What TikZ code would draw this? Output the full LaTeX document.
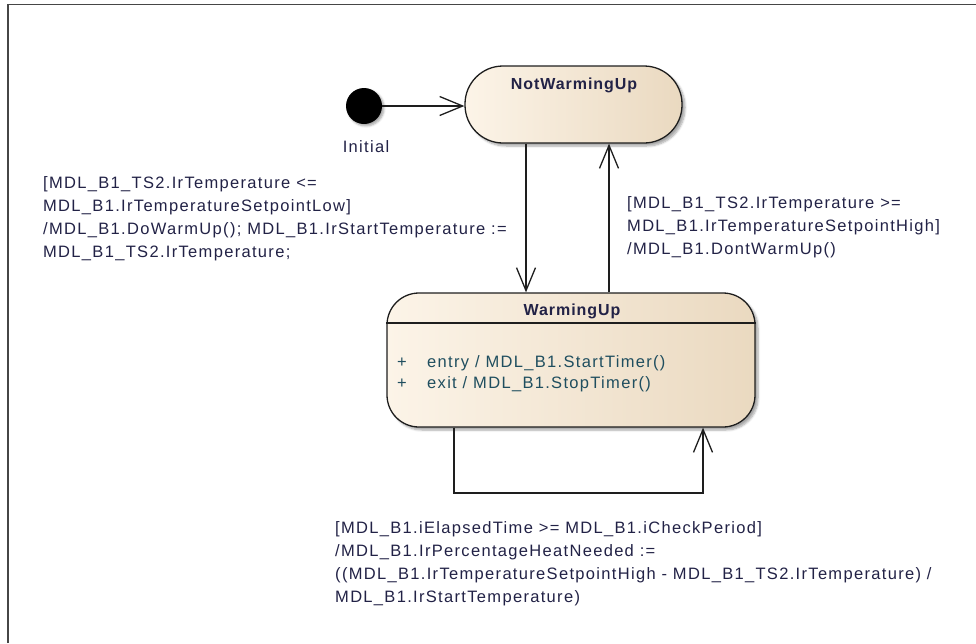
\documentclass[tikz,border=0pt]{standalone}
\usepackage{fontspec}
\setmainfont{Liberation Sans}[LetterSpace=8]
\newfontfamily\statetitlefont{Liberation Sans}[LetterSpace=6]
\usetikzlibrary{arrows.meta,shadows.blur,calc}

\definecolor{stateL}{RGB}{252,244,232}
\definecolor{stateR}{RGB}{234,217,192}
\definecolor{guard}{RGB}{34,34,70}
\definecolor{act}{RGB}{31,78,95}
\definecolor{edge}{RGB}{30,30,30}
\definecolor{frame}{RGB}{70,70,70}

\begin{document}
\begin{tikzpicture}[x=1pt,y=-1pt,
  lbl/.style={inner sep=0pt, anchor=north west, align=left, text=guard,
    font=\fontsize{16.5}{23}\selectfont},
  actxt/.style={inner sep=0pt, anchor=west, text=act,
    font=\fontsize{16.5}{20}\selectfont},
  statebox/.style={draw=edge, line width=1.3pt, left color=stateL, right color=stateR,
    blur shadow={shadow xshift=3pt, shadow yshift=-3pt, shadow opacity=35, shadow blur steps=6}},
  title/.style={inner sep=0pt, text=guard, font=\statetitlefont\fontsize{16}{20}\selectfont\bfseries},
  trans/.style={draw=edge, line width=1.3pt,
    -{Straight Barb[length=23pt,width=19pt,line width=1.3pt]}},
]
\useasboundingbox (0,0) rectangle (976,643);

% outer frame (top and left edges)
\draw[frame, line width=1.6pt] (8,643) -- (8,4.5) -- (976,4.5);

% initial pseudo-state
\node[circle, fill=black, minimum size=36pt, inner sep=0pt,
  blur shadow={shadow xshift=2pt, shadow yshift=-2pt, shadow opacity=35, shadow blur steps=5}]
  (init) at (364,106) {};
\node[text=guard, inner sep=0pt, font=\fontsize{16.5}{18}\selectfont] (initlbl) at (366,147) {Initial};

% states
\node[statebox, rectangle, rounded corners=38pt, minimum width=217pt, minimum height=77pt,
  inner sep=0pt] (nwu) at (573.5,104.5) {};
\node[title] (nwut) at (574,85) {NotWarmingUp};

\node[statebox, rectangle, rounded corners=32pt, minimum width=368pt, minimum height=134pt,
  inner sep=0pt] (wu) at (571,360) {};
\node[title] (wut) at (572,311) {WarmingUp};
\coordinate (dv) at (0,323);
\draw[edge, line width=1.3pt] (wu.west |- dv) -- (wu.east |- dv);

% internal activities
\node[actxt] (p1) at (397,363) {+};
\node[actxt] (e1) at (427,363) {entry / MDL\_B1.StartTimer()};
\node[actxt] (p2) at (397,384) {+};
\node[actxt] (e2) at (427,384) {exit / MDL\_B1.StopTimer()};

% transitions
\draw[trans] (init) -- (init -| nwu.west);

\coordinate (xdown) at (526,0);
\coordinate (xup) at (609,0);
\draw[trans] (nwu.south -| xdown) -- (wu.north -| xdown);
\draw[trans] (wu.north -| xup) -- (nwu.south -| xup);

\coordinate (lpl) at (454,493);
\coordinate (xr) at (703,0);
\draw[trans] (wu.south -| lpl) -- (lpl) -| (wu.south -| xr);

% guards and effects
\node[lbl] (g1) at (43,176.5) {[MDL\_B1\_TS2.IrTemperature <=\\
MDL\_B1.IrTemperatureSetpointLow]\\
/MDL\_B1.DoWarmUp(); MDL\_B1.IrStartTemperature :=\\
MDL\_B1\_TS2.IrTemperature;};

\node[lbl] (g2) at (627,196.5) {[MDL\_B1\_TS2.IrTemperature >=\\
MDL\_B1.IrTemperatureSetpointHigh]\\
/MDL\_B1.DontWarmUp()};

\node[lbl] (g3) at (335,521.5) {[MDL\_B1.iElapsedTime >= MDL\_B1.iCheckPeriod]\\
/MDL\_B1.IrPercentageHeatNeeded :=\\
((MDL\_B1.IrTemperatureSetpointHigh - MDL\_B1\_TS2.IrTemperature) /\\
MDL\_B1.IrStartTemperature)};
\end{tikzpicture}
\end{document}
